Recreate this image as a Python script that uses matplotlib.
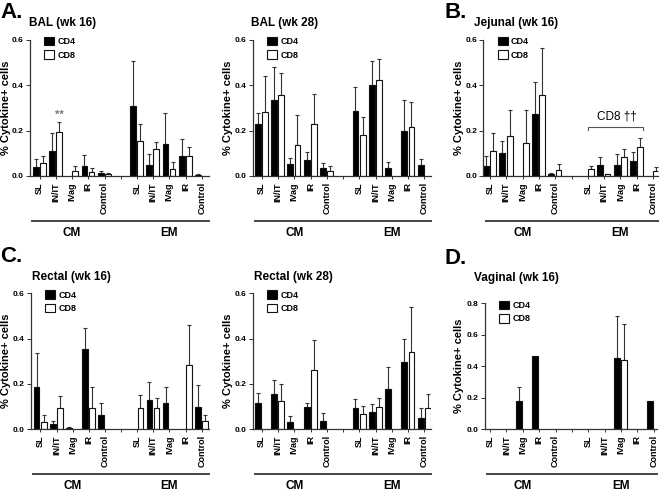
import numpy as np
import matplotlib
matplotlib.use('Agg')
import matplotlib.pyplot as plt
from matplotlib.patches import Patch
from matplotlib.transforms import offset_copy

plt.rcParams['font.family'] = ['Liberation Sans', 'DejaVu Sans']
nan = np.nan

categories = ['SL', 'IN/IT', 'IVag', 'IR', 'Control']
groups = ['CM', 'EM']
positions = [0, 1, 2, 3, 4, 6, 7, 8, 9, 10]

# BAL wk 16
bal16_cd4 = [0.041, 0.112, nan, 0.046, 0.012, 0.309, 0.050, 0.140, 0.090, 0.006]
bal16_cd4_err = [0.033, 0.076, nan, 0.045, 0.012, 0.200, 0.046, 0.136, 0.072, 0.003]
bal16_cd8 = [0.056, 0.193, 0.022, 0.016, 0.007, 0.156, 0.119, 0.031, 0.088, nan]
bal16_cd8_err = [0.032, 0.047, 0.024, 0.019, 0.008, 0.072, 0.032, 0.031, 0.040, nan]

# BAL wk 28
bal28_cd4 = [0.228, 0.335, 0.051, 0.071, 0.035, 0.287, 0.401, 0.034, 0.200, 0.047]
bal28_cd4_err = [0.048, 0.147, 0.027, 0.033, 0.021, 0.107, 0.108, 0.029, 0.135, 0.029]
bal28_cd8 = [0.284, 0.357, 0.135, 0.228, 0.022, 0.181, 0.424, nan, 0.218, nan]
bal28_cd8_err = [0.159, 0.099, 0.133, 0.132, 0.022, 0.081, 0.091, nan, 0.110, nan]

# Jejunal wk 16
jej_cd4 = [0.046, 0.100, nan, 0.272, 0.007, nan, 0.049, 0.049, 0.068, nan]
jej_cd4_err = [0.044, 0.054, nan, 0.144, 0.008, nan, 0.033, 0.048, 0.036, nan]
jej_cd8 = [0.110, 0.176, 0.144, 0.357, 0.025, 0.029, 0.007, 0.085, 0.128, 0.022]
jej_cd8_err = [0.078, 0.115, 0.147, 0.206, 0.029, 0.015, 0.003, 0.035, 0.038, 0.016]

# Rectal wk 16
rec16_cd4 = [0.187, 0.021, 0.006, 0.352, 0.062, nan, 0.128, 0.117, nan, 0.097]
rec16_cd4_err = [0.148, 0.016, 0.004, 0.093, 0.054, nan, 0.082, 0.070, nan, 0.098]
rec16_cd8 = [0.032, 0.091, nan, 0.094, nan, 0.091, 0.091, nan, 0.283, 0.035]
rec16_cd8_err = [0.030, 0.056, nan, 0.093, nan, 0.059, 0.045, nan, 0.177, 0.027]

# Rectal wk 28
rec28_cd4 = [0.114, 0.155, 0.032, 0.097, 0.037, 0.093, 0.077, 0.176, 0.295, 0.047]
rec28_cd4_err = [0.044, 0.063, 0.027, 0.017, 0.035, 0.038, 0.032, 0.100, 0.103, 0.044]
rec28_cd8 = [nan, 0.124, nan, 0.261, nan, 0.066, 0.099, nan, 0.342, 0.091]
rec28_cd8_err = [nan, 0.074, nan, 0.133, nan, 0.037, 0.037, nan, 0.198, 0.062]

# Vaginal wk 16
vag_cd4 = [nan, nan, 0.180, 0.465, nan, nan, nan, 0.455, nan, 0.180]
vag_cd4_err = [nan, nan, 0.090, 0.0, nan, nan, nan, 0.265, nan, 0.0]
vag_cd8 = [nan, nan, nan, nan, nan, nan, nan, 0.440, nan, nan]
vag_cd8_err = [nan, nan, nan, nan, nan, nan, nan, 0.230, nan, nan]

W, H = 664, 491
fig = plt.figure(figsize=(W / 100, H / 100), dpi=100)


def add_ax(l, r, t, b):
    return fig.add_axes([l / W, 1 - b / H, (r - l) / W, (b - t) / H])


def panel(ax, cd4, cd4_err, cd8, cd8_err, ymax, xlim, label_px):
    x = np.array(positions, dtype=float)
    bw = 0.36
    for vals, errs, off, fc in [(cd4, cd4_err, -0.24, 'black'), (cd8, cd8_err, 0.20, 'white')]:
        vals = np.array(vals)
        errs = np.array(errs)
        ok = ~np.isnan(vals)
        ax.bar(x[ok] + off, vals[ok], bw, color=fc, edgecolor='#111111', linewidth=0.8, zorder=2)
        e_ok = ok & ~np.isnan(errs) & (np.nan_to_num(errs) > 0)
        ax.errorbar(x[e_ok] + off, vals[e_ok], yerr=[np.zeros(e_ok.sum()), errs[e_ok]],
                    fmt='none', ecolor='#333333', elinewidth=0.8, capsize=1.3, capthick=0.8, zorder=1)
    ax.set_xlim(*xlim)
    ax.set_ylim(0, ymax)
    ax.set_yticks(np.arange(0, ymax + 0.01, 0.2))
    ax.set_yticklabels(['%.1f' % v for v in np.arange(0, ymax + 0.01, 0.2)], fontsize=6, fontweight='bold')
    ax.set_xticks(range(11))
    ax.set_xticklabels(categories + [''] + categories, rotation=90, fontsize=6.5, fontweight='bold')
    ax.tick_params(axis='x', length=2.5, width=0.7, pad=2, color='#333333')
    ax.tick_params(axis='y', length=3, width=0.7, pad=1.5, color='#333333')
    for s in ['top', 'right']:
        ax.spines[s].set_visible(False)
    for s in ['left', 'bottom']:
        ax.spines[s].set_color('#333333')
        ax.spines[s].set_linewidth(0.9)
    ax.set_ylabel('% Cytokine+ cells', fontsize=8, fontweight='bold')
    # place label center at a given figure pixel x
    l_px = ax.get_position().x0 * W
    w_px = ax.get_position().width * W
    ax.yaxis.label.set_va('center')
    ax.yaxis.set_label_coords((label_px - l_px) / w_px, 0.5)
    handles = [Patch(facecolor='black', edgecolor='#111111', linewidth=0.8, label='CD4'),
               Patch(facecolor='white', edgecolor='#111111', linewidth=0.8, label='CD8')]
    ax.legend(handles=handles, loc='upper left', bbox_to_anchor=(0.06, 1.05), frameon=False,
              prop={'size': 6.5, 'weight': 'bold'}, handlelength=1.1, handleheight=1.1,
              handletextpad=0.4, labelspacing=0.45, borderaxespad=0)
    # group line and labels below axis
    tr_line = offset_copy(ax.get_xaxis_transform(), fig=fig, x=0, y=-45, units='dots')
    ax.plot([xlim[0] + 0.15, xlim[1]], [0, 0], transform=tr_line, color='#444444', lw=1.4, clip_on=False)
    tr_txt = offset_copy(ax.get_xaxis_transform(), fig=fig, x=0, y=-57, units='dots')
    for g, gx in zip(groups, [2, 8]):
        ax.text(gx, 0, g, transform=tr_txt, ha='center', va='center', fontsize=8.5, fontweight='bold')


ax_a = add_ax(30, 209, 40, 176)
panel(ax_a, bal16_cd4, bal16_cd4_err, bal16_cd8, bal16_cd8_err, 0.6, (-0.6, 10.45), 6)
ax_a.text(1.2, 0.27, '**', ha='center', va='center', fontsize=8, color='#777777', fontweight='bold')

ax_b28 = add_ax(252.7, 431, 40, 176)
panel(ax_b28, bal28_cd4, bal28_cd4_err, bal28_cd8, bal28_cd8_err, 0.6, (-0.55, 10.4), 228)

ax_j = add_ax(483.5, 658, 40, 176)
panel(ax_j, jej_cd4, jej_cd4_err, jej_cd8, jej_cd8_err, 0.6, (-0.4, 10.3), 459)
ax_j.plot([6.02, 6.02, 9.4, 9.4], [0.205, 0.218, 0.218, 0.205], color='#555555', lw=0.8)
ax_j.text(7.75, 0.262, 'CD8 \u2020\u2020', ha='center', va='center', fontsize=8.5)

ax_c = add_ax(30.7, 209, 293.3, 429)
panel(ax_c, rec16_cd4, rec16_cd4_err, rec16_cd8, rec16_cd8_err, 0.6, (-0.6, 10.45), 6)

ax_r28 = add_ax(252.7, 431, 293.3, 429)
panel(ax_r28, rec28_cd4, rec28_cd4_err, rec28_cd8, rec28_cd8_err, 0.6, (-0.55, 10.4), 228)

ax_d = add_ax(484.7, 657, 303.3, 429)
panel(ax_d, vag_cd4, vag_cd4_err, vag_cd8, vag_cd8_err, 0.8, (-0.33, 10.2), 459)

titles = [('BAL (wk 16)', 29, 23), ('BAL (wk 28)', 251.3, 23), ('Jejunal (wk 16)', 474, 23),
          ('Rectal (wk 16)', 32.3, 277), ('Rectal (wk 28)', 253.7, 277), ('Vaginal (wk 16)', 474, 278)]
for t, px, py in titles:
    fig.text(px / W, 1 - py / H, t, ha='left', va='center', fontsize=8.5, fontweight='bold')

letters = [('A.', 0, 12), ('B.', 444, 12), ('C.', 0, 257), ('D.', 444, 258)]
for t, px, py in letters:
    fig.text(px / W, 1 - py / H, t, ha='left', va='center', fontsize=16, fontweight='bold')

fig.savefig('out.png', dpi=100)
